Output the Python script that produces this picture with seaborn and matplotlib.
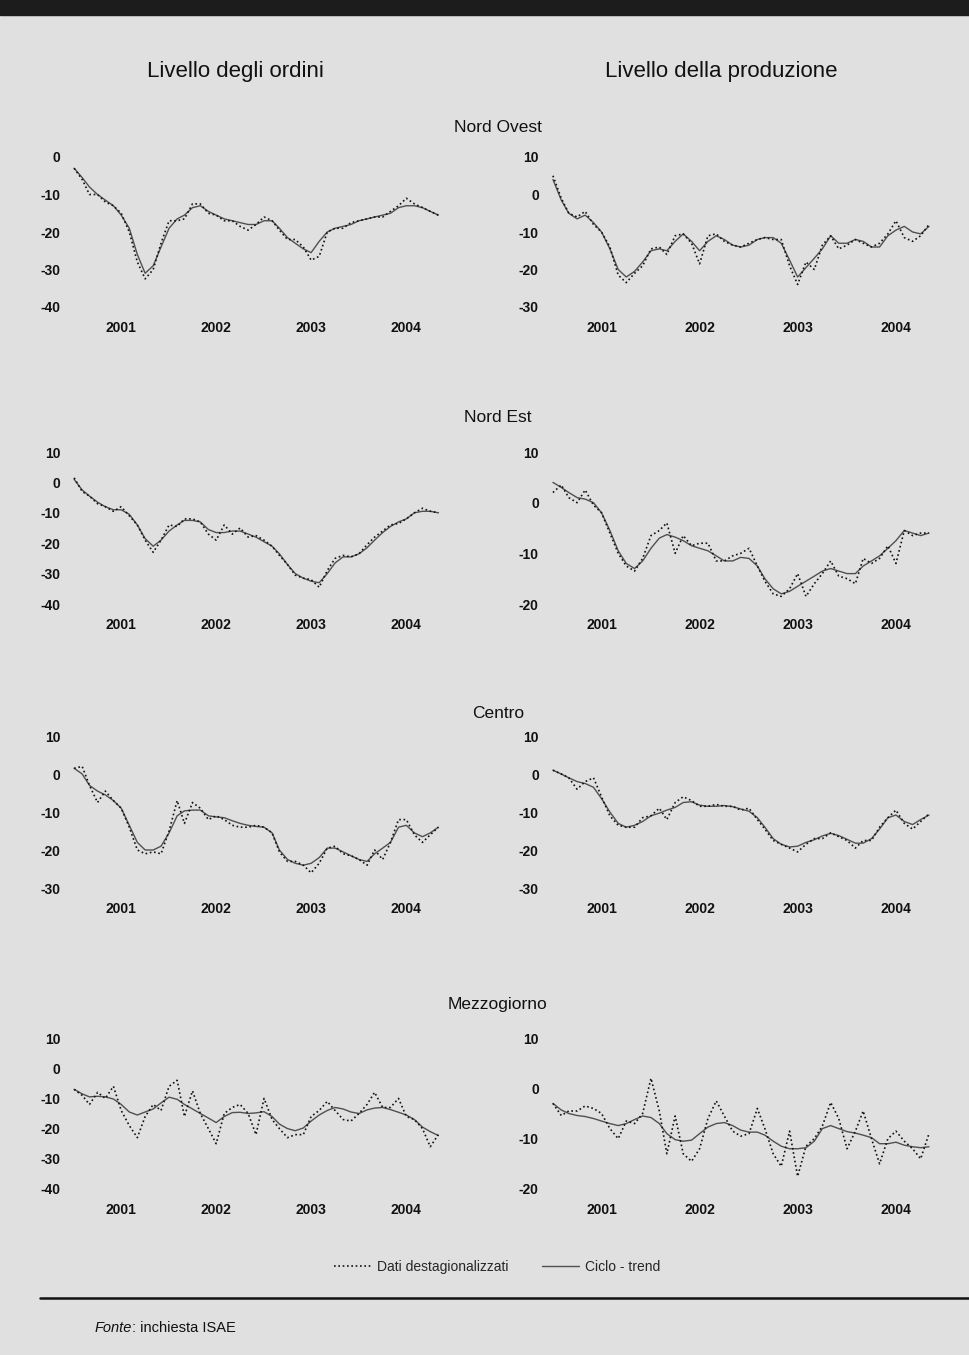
import numpy as np
import pandas as pd
import seaborn as sns
import matplotlib.pyplot as plt
from matplotlib.lines import Line2D
from matplotlib.patches import Rectangle

sns.set_theme(style="white")
plt.rcParams['font.family'] = ['Liberation Sans', 'DejaVu Sans']
plt.rcParams['axes.unicode_minus'] = False

months = pd.date_range("2001-01-01", periods=47, freq="MS")
years = [2001, 2002, 2003, 2004]
column_titles = ["Livello degli ordini", "Livello della produzione"]
regions = ["Nord Ovest", "Nord Est", "Centro", "Mezzogiorno"]

# Nord Ovest
no_ord_dati = [-3, -6, -10, -10, -12, -13, -15, -20, -28, -32.5, -30, -23,
               -17, -17, -16.5, -12.5, -12.5, -15, -15.5, -17, -17, -18.5, -19.5, -18,
               -16, -17, -19.5, -22, -22, -24, -27.5, -26.5, -20, -19, -19, -17.5,
               -17, -16.5, -16, -16, -14.5, -13, -11, -12.5, -13.5, -14.5, -15.5]
no_ord_trend = [-3, -5.5, -8, -10, -11.5, -13, -15.5, -19, -26, -31, -29, -24,
                -19, -16.5, -15.5, -13.5, -13, -14.5, -15.5, -16.5, -17, -17.5, -18, -18,
                -17, -17, -19, -21.5, -23, -24.5, -25.5, -22.5, -20, -19, -18.5, -18,
                -17, -16.5, -16, -15.5, -15, -13.5, -13, -13, -13.5, -14.5, -15.5]
no_prod_dati = [5, -1, -5, -6, -4.5, -8, -10, -14, -21.5, -23.5, -21, -19,
                -14.5, -14, -16, -11, -10.5, -13, -18.5, -11, -10.5, -12.5, -13.5, -14,
                -13, -12, -11.5, -12, -12, -19, -24, -18, -20, -13.5, -11, -14.5,
                -13.5, -12, -13, -14, -13, -10.5, -7, -11.5, -12.5, -11, -8]
no_prod_trend = [4, -1.5, -5, -6.5, -5.5, -7.5, -10, -14.5, -20, -22, -20.5, -18,
                 -15, -14.5, -15, -12.5, -10.5, -12.5, -15, -12.5, -11, -12, -13.5, -14,
                 -13.5, -12, -11.5, -11.5, -13, -17.5, -22, -19.5, -17, -14.5, -11, -13,
                 -13, -12, -12.5, -14, -14, -11, -9.5, -8.5, -10, -10.5, -8.5]

# Nord Est
ne_ord_dati = [1.5, -3, -4.5, -7, -8, -9.5, -8, -11, -14, -19, -23, -19,
               -14, -14.5, -12, -12, -13, -17, -19, -14, -17, -15, -18, -17.5,
               -19, -21, -24, -27, -30.5, -31.5, -32, -34.5, -29, -25, -24, -24.5,
               -23.5, -20.5, -18, -16, -14, -13.5, -12, -10, -8.5, -9.5, -10]
ne_ord_trend = [1, -2.5, -4.5, -6.5, -8, -9, -9, -10.5, -14, -18.5, -21, -19,
                -16, -14, -12.5, -12.5, -13, -15.5, -16.5, -16.5, -16, -16, -17, -18,
                -19.5, -21, -23.5, -27, -30, -31.5, -32.5, -33, -30, -26.5, -24.5, -24.5,
                -23.5, -21.5, -19, -16.5, -14.5, -13, -12, -10, -9.5, -9.5, -10]
ne_prod_dati = [2, 3.5, 1, 0, 2.5, -0.5, -2, -6, -10, -12.5, -13.5, -11,
                -6.5, -5.5, -4, -10, -6.5, -8.5, -8, -8, -11.5, -11.5, -10.5, -10,
                -9, -12.5, -15.5, -18, -18.5, -17, -14, -18.5, -16, -14, -11.5, -14.5,
                -15, -16, -11, -12, -11, -8.5, -12, -5.5, -6.5, -6, -6]
ne_prod_trend = [4, 3, 2, 1, 0.7, 0, -2, -5.5, -9.5, -12, -13, -11.5,
                 -9, -7, -6.3, -6.8, -7.5, -8.5, -9, -9.5, -10.5, -11.5, -11.5, -10.8,
                 -11, -12.5, -15, -17, -18, -17.5, -16.5, -15.5, -14.5, -13.5, -13, -13.5,
                 -14, -14, -12.5, -11.5, -10.5, -9, -7.5, -5.5, -6, -6.5, -6]

# Centro
ce_ord_dati = [1.5, 2, -3, -7.5, -4.5, -7, -9, -14, -20, -21, -20.5, -21,
               -15, -7, -13, -7.5, -9, -12, -11, -12, -13.5, -14, -14, -13.5,
               -14, -15.5, -20.5, -23, -23, -24, -26, -23.5, -19.5, -19, -21, -21.5,
               -22.5, -24, -20, -22.5, -18, -12, -12, -16, -18, -16, -14]
ce_ord_trend = [1.5, 0, -3, -4.5, -5.5, -7, -9, -13.5, -18, -20, -20, -19,
                -15.5, -11, -9.7, -9.5, -9.5, -11, -11.3, -11.5, -12.3, -13, -13.5, -13.8,
                -14, -15.5, -20, -22.5, -23.5, -24, -23.5, -22, -19.5, -19.5, -20.5, -21.5,
                -22.5, -23, -21, -19.5, -18, -14, -13.5, -15.5, -16.5, -15.5, -14]
ce_prod_dati = [1, 0, -1, -4, -2, -1, -6, -11, -13.5, -14, -14, -11.5,
                -11, -9, -12, -7.5, -6, -7, -8.5, -8.5, -8, -8.5, -8.5, -9.5,
                -9, -12, -14.5, -17.5, -18.5, -19.5, -20.5, -18.5, -17, -17, -15.5, -16.5,
                -17.5, -19.5, -17.5, -17.5, -14, -11.5, -9.5, -13, -14.5, -12.5, -10.5]
ce_prod_trend = [1, 0, -1, -2, -2.5, -3.5, -6.5, -10, -13, -14, -13.5, -12.5,
                 -11, -10.3, -9.5, -8.8, -7.5, -7.3, -8.2, -8.5, -8.5, -8.3, -8.6, -9.2,
                 -9.8, -11.5, -14, -17, -18.5, -19.2, -19, -18, -17.3, -16.3, -15.6, -16.2,
                 -17.2, -18.2, -18.2, -17, -14.5, -11.5, -10.8, -12.5, -13.3, -12, -10.8]

# Mezzogiorno
me_ord_dati = [-7, -9, -12, -8, -10, -6, -14, -19, -23, -16, -12, -14,
               -6, -4, -16, -7.5, -15, -20, -25, -15, -13, -12, -15, -22,
               -10, -17, -20, -23, -22, -22, -16, -14, -11, -14, -17, -17.5,
               -15, -12, -8, -13, -13, -10, -16, -17, -20, -26, -22]
me_ord_trend = [-7, -8.5, -9.5, -9.3, -9.5, -10.2, -12, -14.5, -15.5, -14.5, -13.5, -11.5,
                -9.6, -10.3, -12, -13.5, -15, -16.5, -18, -16, -14.7, -14.6, -15, -14.8,
                -14.4, -16, -18.5, -20, -20.7, -19.8, -17.5, -15.5, -14, -13, -13.5, -14.5,
                -15, -13.8, -13.2, -13, -13.7, -14.6, -15.5, -17, -19.5, -21, -22.3]
me_prod_dati = [-3, -5.4, -4.5, -4.5, -3.5, -4, -5, -8, -10, -6.5, -7, -5,
                2, -4.5, -13, -5.5, -13, -14.5, -12, -6, -2.5, -5.5, -8.5, -9.5,
                -9, -4, -8, -13, -15.5, -8.5, -17.5, -11.5, -10, -7.5, -2.8, -6,
                -12, -8.5, -4.5, -10, -15, -10, -8.5, -10.5, -12, -14, -9]
me_prod_trend = [-3, -4.3, -5, -5.4, -5.6, -6, -6.5, -7, -7.4, -7, -6.2, -5.5,
                 -5.8, -7, -9, -10.2, -10.5, -10.3, -9, -7.7, -7, -6.8, -7.4, -8.3,
                 -8.7, -8.7, -9.3, -10.5, -11.5, -12, -12, -11.8, -10.5, -8, -7.4, -8,
                 -8.6, -8.9, -9.3, -9.8, -11, -11, -10.7, -11.3, -11.6, -11.8, -11.6]

ticks_ord = [[0, -10, -20, -30, -40], [10, 0, -10, -20, -30, -40],
             [10, 0, -10, -20, -30], [10, 0, -10, -20, -30, -40]]
ticks_prod = [[10, 0, -10, -20, -30], [10, 0, -10, -20],
              [10, 0, -10, -20, -30], [10, 0, -10, -20]]

panels = [
    [(no_ord_dati, no_ord_trend), (no_prod_dati, no_prod_trend)],
    [(ne_ord_dati, ne_ord_trend), (ne_prod_dati, ne_prod_trend)],
    [(ce_ord_dati, ce_ord_trend), (ce_prod_dati, ce_prod_trend)],
    [(me_ord_dati, me_ord_trend), (me_prod_dati, me_prod_trend)],
]
ticks = [[ticks_ord[i], ticks_prod[i]] for i in range(4)]

W, H = 970, 1355
BG = "#e0e0e0"
INK = "#111111"
fig = plt.figure(figsize=(W / 100, H / 100), dpi=100, facecolor=BG)

# pixel layout of the panels (top tick, bottom tick) and columns
row_px = [(157, 307), (452, 604), (736, 888), (1038, 1189)]
col_px = [(64.5, 449), (543, 940)]
title_y = [128, 418, 713, 1005]
xlim = (pd.Timestamp("2000-11-25"), pd.Timestamp("2004-12-12"))

for r in range(4):
    for c in range(2):
        top, bot = row_px[r]
        pad = 0.03 * (bot - top)
        x0, x1 = col_px[c]
        ax = fig.add_axes([x0 / W, 1 - (bot + pad) / H, (x1 - x0) / W, (bot - top + 2 * pad) / H])
        dati, trend = panels[r][c]
        sns.lineplot(x=months, y=trend, ax=ax, color="#505050", lw=1.0)
        sns.lineplot(x=months, y=dati, ax=ax, color=INK, lw=1.2, linestyle=(0, (1, 1.6)))
        yt = ticks[r][c]
        lo, hi = min(yt), max(yt)
        m = 0.03 * (hi - lo)
        ax.set_ylim(lo - m, hi + m)
        ax.set_yticks(yt)
        ax.set_yticklabels([str(v) for v in yt])
        ax.set_xlim(xlim)
        ax.set_xticks([pd.Timestamp(f"{y}-07-01") for y in years])
        ax.set_xticklabels([str(y) for y in years])
        ax.set_xlabel("")
        ax.set_ylabel("")
        ax.set_facecolor("none")
        for s in ax.spines.values():
            s.set_visible(False)
        ax.tick_params(length=0, labelsize=10, pad=3)
        ax.tick_params(axis="x", pad=7)
        for lab in ax.get_xticklabels() + ax.get_yticklabels():
            lab.set_fontweight("bold")
            lab.set_color(INK)
    fig.text(498 / W, 1 - title_y[r] / H, regions[r], ha="center", va="center",
             fontsize=12.5, color=INK)

fig.text(235 / W, 1 - 72 / H, column_titles[0], ha="center", va="center", fontsize=16, color=INK)
fig.text(721 / W, 1 - 72 / H, column_titles[1], ha="center", va="center", fontsize=16, color=INK)

# top dark band
fig.add_artist(Rectangle((0, 1 - 15 / H), 1, 15 / H, transform=fig.transFigure,
                         color="#1c1c1c", zorder=0))

handles = [Line2D([], [], color=INK, lw=1.2, linestyle=(0, (1, 1.6))),
           Line2D([], [], color="#505050", lw=1.0)]
fig.legend(handles, ["Dati destagionalizzati", "Ciclo - trend"], loc="center",
           bbox_to_anchor=(497 / W, 1 - 1267 / H), ncol=2, frameon=False,
           fontsize=10, handlelength=2.7, handletextpad=0.4, columnspacing=2.4)

fig.add_artist(Line2D([40 / W, 1], [1 - 1298 / H] * 2, transform=fig.transFigure,
                      color=INK, lw=1.8))

t1 = fig.text(95 / W, 1 - 1328 / H, "Fonte", ha="left", va="center", fontsize=10.5,
              style="italic", color=INK)
fig.canvas.draw()
bb = t1.get_window_extent(renderer=fig.canvas.get_renderer())
fig.text(bb.x1 / W, 1 - 1328 / H, ": inchiesta ISAE", ha="left", va="center",
         fontsize=10.5, color=INK)

fig.savefig("out.png", dpi=100, facecolor=BG)
